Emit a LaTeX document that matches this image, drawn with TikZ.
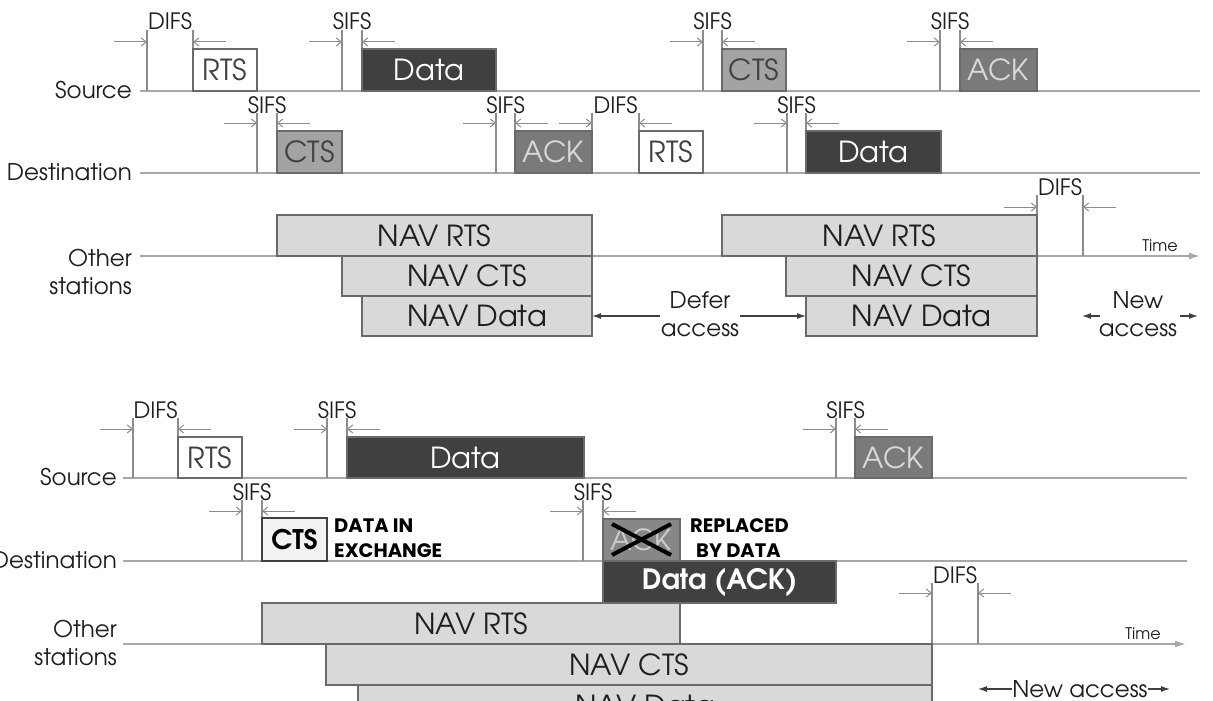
\documentclass[tikz,border=0pt]{standalone}
\usepackage{fontspec}
\setmainfont{TeX Gyre Adventor}
\newfontfamily\popfont{Poppins}
\usetikzlibrary{arrows.meta,calc}
\definecolor{axisgray}{HTML}{A8A8A8}
\definecolor{tickgray}{HTML}{8C8C8C}
\definecolor{boxline}{HTML}{6A6A6A}
\definecolor{darkpkt}{HTML}{404040}
\definecolor{midpkt}{HTML}{A3A3A3}
\definecolor{ackpkt}{HTML}{7A7A7A}
\definecolor{navfill}{HTML}{D9D9D9}
\definecolor{ctsfill}{HTML}{F2F2F2}
\definecolor{txt}{HTML}{1E1E1E}
\newcommand{\timegap}[7]{%
  \coordinate (#1a) at (#2,#4);
  \coordinate (#1b) at (#2,#5);
  \coordinate (#1c) at (#3,#4);
  \coordinate (#1d) at (#3,#5);
  \coordinate (#1e) at (#2-33,#4+#7);
  \coordinate (#1f) at (#2,#4+#7);
  \coordinate (#1g) at (#3+33,#4+#7);
  \coordinate (#1h) at (#3,#4+#7);
  \draw[tick] (#1a) -- (#1b);
  \draw[tick] (#1c) -- (#1d);
  \draw[gaparrow] (#1e) -- (#1f);
  \draw[gaparrow] (#1g) -- (#1h);
  \node[gaplbl] (#1) at ({(#2+#3)/2},#4) {#6};
}
\begin{document}
\begin{tikzpicture}[x=1pt,y=-1pt,
  axis/.style={draw=axisgray, line width=1.8pt},
  tick/.style={draw=tickgray, line width=1.3pt},
  gaparrow/.style={draw=tickgray, line width=1pt, -{Straight Barb[length=5pt,width=8pt]}},
  lbl/.style={text=txt, font=\fontsize{23}{28}\selectfont, inner sep=0pt},
  gaplbl/.style={text=txt, font=\fontsize{22.5}{24}\selectfont, anchor=base, inner sep=0pt},
  pkt/.style={draw=boxline, line width=1.3pt, anchor=north west, inner sep=0pt, outer sep=0pt, font=\fontsize{29}{31}\selectfont},
  pktwhite/.style={pkt, fill=white, text=txt!85},
  pktdark/.style={pkt, fill=darkpkt, text=white},
  pktmid/.style={pkt, fill=midpkt, text=darkpkt},
  pktack/.style={pkt, fill=ackpkt, text=white!85!black},
  nav/.style={pkt, fill=navfill, text=txt, font=\fontsize{29}{31}\selectfont},
  boldnote/.style={text=black, font=\popfont\bfseries\fontsize{19.5}{25}\selectfont, align=left, inner sep=0pt, anchor=west},
  solidarrow/.style={draw=darkpkt, line width=1.1pt, -{Latex[length=9pt,width=6pt]}},
  timelbl/.style={text=txt, font=\fontsize{16}{18}\selectfont, inner sep=0pt}
]
\clip (0,0) rectangle (1213,701);
\fill[white] (0,0) rectangle (1213,701);

%%%%%%%%%%%%%%%% TOP DIAGRAM %%%%%%%%%%%%%%%%
\node[lbl, anchor=east] (tsrc) at (132,90) {Source};
\node[lbl, anchor=east] (tdst) at (132,172) {Destination};
\node[lbl, anchor=east, align=right] (toth) at (132,272) {Other\\stations};
\coordinate (tsrcL) at (140,91);  \coordinate (tsrcR) at (1200,91);
\coordinate (tdstL) at (140,173); \coordinate (tdstR) at (1200,173);
\coordinate (tothL) at (140,256); \coordinate (tothR) at (1200,256);
\draw[axis] (tsrcL) -- (tsrcR);
\draw[axis] (tdstL) -- (tdstR);
\draw[axis, -{Latex[length=11pt,width=7pt]}] (tothL) -- (tothR);
\node[timelbl] (ttime) at (1160,246) {Time};

\timegap{g1}{147}{193}{30}{91}{DIFS}{12}
\timegap{g2}{342}{362}{30}{91}{SIFS}{12}
\timegap{g3}{703}{722}{30}{91}{SIFS}{12}
\timegap{g4}{940}{960}{30}{91}{SIFS}{12}
\timegap{g5}{257}{277}{113}{173}{SIFS}{10}
\timegap{g6}{496}{515}{113}{173}{SIFS}{10}
\timegap{g7}{592}{639}{113}{173}{DIFS}{10}
\timegap{g8}{787}{806}{113}{173}{SIFS}{10}
\timegap{g9}{1037}{1083}{195}{256}{DIFS}{12}

\node[pktwhite, minimum width=64pt, minimum height=42pt] (srts) at (193,49) {RTS};
\node[pktdark,  minimum width=134pt, minimum height=42pt] (sdata) at (362,49) {Data};
\node[pktmid,   minimum width=64pt, minimum height=42pt] (scts) at (722,49) {CTS};
\node[pktack,   minimum width=77pt, minimum height=42pt] (sack) at (960,49) {ACK};

\node[pktmid,   minimum width=65pt, minimum height=42pt] (dcts) at (277,131) {CTS};
\node[pktack,   minimum width=77pt, minimum height=42pt] (dack) at (515,131) {ACK};
\node[pktwhite, minimum width=64pt, minimum height=42pt] (drts) at (639,131) {RTS};
\node[pktdark,  minimum width=135pt, minimum height=42pt] (ddata) at (806,131) {Data};

\node[nav, minimum width=315pt, minimum height=41pt] (navrts1) at (277,215) {NAV RTS};
\node[nav, minimum width=250pt, minimum height=40pt] (navcts1) at (342,256) {NAV CTS};
\node[nav, minimum width=230pt, minimum height=40pt] (navdata1) at (362,296) {NAV Data};
\node[nav, minimum width=315pt, minimum height=41pt] (navrts2) at (722,215) {NAV RTS};
\node[nav, minimum width=251pt, minimum height=40pt] (navcts2) at (786,256) {NAV CTS};
\node[nav, minimum width=231pt, minimum height=40pt] (navdata2) at (806,296) {NAV Data};

\node[lbl, align=center] (defer) at (700,314) {Defer\\access};
\coordinate (deferL) at (660,316); \coordinate (deferR) at (740,316);
\draw[solidarrow] (deferL) -- (navdata1.east |- deferL);
\draw[solidarrow] (deferR) -- (navdata2.west |- deferR);
\node[lbl, align=center] (newacc) at (1138,314) {New\\access};
\coordinate (naL) at (1100,316); \coordinate (naLt) at (1082,316);
\coordinate (naR) at (1180,316); \coordinate (naRt) at (1198,316);
\draw[solidarrow] (naL) -- (naLt);
\draw[solidarrow] (naR) -- (naRt);

%%%%%%%%%%%%%%%% BOTTOM DIAGRAM %%%%%%%%%%%%%%%%
\node[lbl, anchor=east] (bsrc) at (117,477) {Source};
\node[lbl, anchor=east] (bdst) at (117,560) {Destination};
\node[lbl, anchor=east, align=right] (both) at (117,643) {Other\\stations};
\coordinate (bsrcL) at (123,478);  \coordinate (bsrcR) at (1187,478);
\coordinate (bdstL) at (123,561); \coordinate (bdstR) at (1187,561);
\coordinate (bothL) at (123,644); \coordinate (bothR) at (1186,644);
\draw[axis] (bsrcL) -- (bsrcR);
\draw[axis] (bdstL) -- (bdstR);
\draw[axis, -{Latex[length=11pt,width=7pt]}] (bothL) -- (bothR);
\node[timelbl] (btime) at (1143,634) {Time};

\timegap{h1}{133}{178}{418}{478}{DIFS}{11}
\timegap{h2}{327}{347}{418}{478}{SIFS}{11}
\timegap{h3}{836}{855}{418}{478}{SIFS}{11}
\timegap{h4}{242}{262}{500}{561}{SIFS}{11}
\timegap{h5}{583}{603}{500}{561}{SIFS}{11}
\timegap{h6}{932}{978}{583}{644}{DIFS}{10}

\node[pktwhite, minimum width=64pt, minimum height=41pt] (bsrts) at (178,437) {RTS};
\node[pktdark,  minimum width=237pt, minimum height=41pt] (bsdata) at (347,437) {Data};
\node[pktack,   minimum width=77pt, minimum height=41pt] (bsack) at (855,437) {ACK};

\node[pkt, fill=ctsfill, draw=darkpkt, text=black, font=\bfseries\fontsize{27}{29}\selectfont,
      minimum width=65pt, minimum height=43pt] (bdcts) at (262,518) {CTS};
\node[boldnote] (exnote) at (334,538) {DATA IN\\EXCHANGE};
\node[pkt, fill=ackpkt!90!white, text=white!80!black,
      minimum width=77pt, minimum height=42pt] (bdack) at (603,519) {ACK};
\draw[black, line width=4pt] ($(bdack.north west)+(9,5)$) -- ($(bdack.south east)+(-9,-6)$);
\draw[black, line width=4pt] ($(bdack.south west)+(9,-6)$) -- ($(bdack.north east)+(-9,5)$);
\node[boldnote] (repnote) at (690,538) {REPLACED\\\hspace*{6pt}BY DATA};
\node[pkt, fill=darkpkt, text=white, font=\bfseries\fontsize{28}{30}\selectfont,
      minimum width=233pt, minimum height=42pt] (bdataack) at (603,561) {Data (ACK)};

\node[nav, minimum width=418pt, minimum height=41pt] (bnavrts) at (262,603) {NAV RTS};
\node[nav, minimum width=606pt, minimum height=41pt] (bnavcts) at (326,644) {NAV CTS};
\node[nav, minimum width=574pt, minimum height=42pt] (bnavdata) at (358,685) {NAV Data};

\node[lbl] (bnewacc) at (1080,689) {New access};
\coordinate (bnaL) at (bnewacc.west); \coordinate (bnaLt) at (978,689);
\coordinate (bnaR) at (bnewacc.east); \coordinate (bnaRt) at (1170,689);
\draw[solidarrow] (bnaL) -- (bnaLt);
\draw[solidarrow] (bnaR) -- (bnaRt);
\end{tikzpicture}
\end{document}
